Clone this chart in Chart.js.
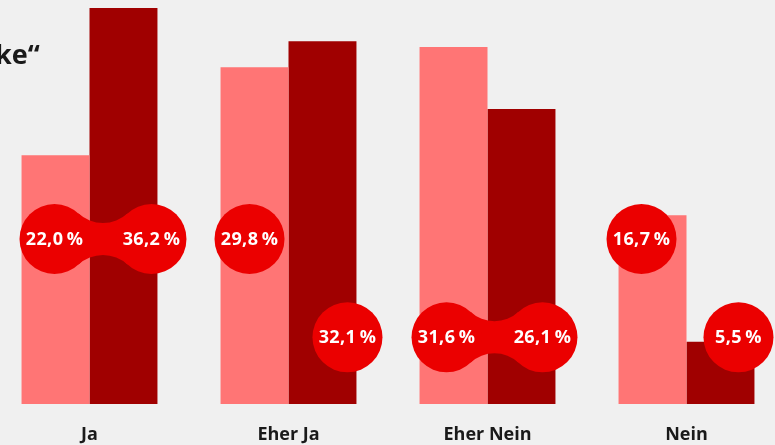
<!DOCTYPE html>
<html>
<head>
<meta charset="utf-8">
<script src="https://cdn.jsdelivr.net/npm/chart.js@4"></script>
<style>
  html, body { margin: 0; padding: 0; background: #f0f0f0; overflow: hidden; width: 775px; height: 445px; }
  #wrap { position: absolute; left: -10px; top: 0; width: 796px; height: 466px; }
  #title { position: absolute; left: -5px; top: 35px; font: bold 27px "Open Sans", sans-serif; color: #1a1a1a; white-space: nowrap; }
</style>
</head>
<body>
<div id="wrap"><canvas id="chart" width="796" height="466"></canvas></div>
<div id="title">ke“</div>
<script>
// ─── Data ─────────────────────────────────────────
const categories = ['Ja', 'Eher Ja', 'Eher Nein', 'Nein'];
const seriesLight = [22.0, 29.8, 31.6, 16.7];
const seriesDark = [36.2, 32.1, 26.1, 5.5];

// bubble placement (value units on the y axis) — layout only
const bubbleLevelLight = [14.6, 14.6, 5.9, 14.6];
const bubbleLevelDark = [14.6, 5.9, 5.9, 5.9];
// horizontal shift (px) of each bubble from its bar centre
const bubbleShiftLight = [-1, -5, -7, -11];
const bubbleShiftDark = [28, 25, 21, 18];

const COLORS = {
  light: '#ff7575',
  dark: '#a00000',
  bubble: '#eb0000',
  text: '#1a1a1a',
};
const FONT = '"Open Sans", sans-serif';
const R = 35;      // bubble radius
const NECK = 16;   // half height of the connector neck

function fmt(v) {
  return v.toFixed(1).replace('.', ',') + '\u2009%';
}

// ─── Bubbles plugin ───────────────────────────────
const bubblePlugin = {
  id: 'bubbles',
  afterDatasetsDraw(chart) {
    const ctx = chart.ctx;
    const y = chart.scales.y;
    const m0 = chart.getDatasetMeta(0);
    const m1 = chart.getDatasetMeta(1);
    ctx.save();
    ctx.fillStyle = COLORS.bubble;

    categories.forEach((cat, i) => {
      const a = { x: m0.data[i].x + bubbleShiftLight[i], y: y.getPixelForValue(bubbleLevelLight[i]) };
      const b = { x: m1.data[i].x + bubbleShiftDark[i], y: y.getPixelForValue(bubbleLevelDark[i]) };

      if (bubbleLevelLight[i] === bubbleLevelDark[i]) {
        drawNeck(ctx, a, b);
      }
      [a, b].forEach(p => {
        ctx.beginPath();
        ctx.arc(p.x, p.y, R, 0, Math.PI * 2);
        ctx.fill();
      });
    });

    ctx.fillStyle = '#ffffff';
    ctx.font = 'bold 18px ' + FONT;
    ctx.letterSpacing = '0.4px';
    ctx.textAlign = 'center';
    ctx.textBaseline = 'middle';
    categories.forEach((cat, i) => {
      ctx.fillText(fmt(seriesLight[i]), m0.data[i].x + bubbleShiftLight[i], y.getPixelForValue(bubbleLevelLight[i]) + 1);
      ctx.fillText(fmt(seriesDark[i]), m1.data[i].x + bubbleShiftDark[i], y.getPixelForValue(bubbleLevelDark[i]) + 1);
    });
    ctx.restore();
  }
};

// concave "metaball" bridge between two equal circles on one row
function drawNeck(ctx, a, b) {
  const half = (b.x - a.x) / 2;
  const mx = a.x + half;
  const cy = a.y;
  // radius of the connecting circles touching both bubbles
  const rc = (half * half + NECK * NECK - R * R) / (2 * (R - NECK));
  const top = { x: mx, y: cy - NECK - rc };
  const bot = { x: mx, y: cy + NECK + rc };

  const tp = (c, p) => {
    const dx = c.x - p.x, dy = c.y - p.y;
    const d = Math.hypot(dx, dy);
    return { x: p.x + dx / d * R, y: p.y + dy / d * R };
  };
  const tl = tp(top, a), tr = tp(top, b), bl = tp(bot, a), br = tp(bot, b);
  const ang = (c, p) => Math.atan2(p.y - c.y, p.x - c.x);

  ctx.beginPath();
  ctx.moveTo(tl.x, tl.y);
  ctx.arc(top.x, top.y, rc, ang(top, tl), ang(top, tr), true);
  ctx.lineTo(br.x, br.y);
  ctx.arc(bot.x, bot.y, rc, ang(bot, br), ang(bot, bl), true);
  ctx.closePath();
  ctx.fill();
}

// ─── Chart ────────────────────────────────────────
new Chart(document.getElementById('chart'), {
  type: 'bar',
  data: {
    labels: categories,
    datasets: [
      { data: seriesLight, backgroundColor: COLORS.light, borderWidth: 0, clip: 0 },
      { data: seriesDark, backgroundColor: COLORS.dark, borderWidth: 0, clip: 0 },
    ],
  },
  options: {
    responsive: false,
    animation: false,
    devicePixelRatio: 1,
    layout: { padding: { top: 8, left: 0, right: 0, bottom: 0 } },
    datasets: { bar: { categoryPercentage: 0.683, barPercentage: 1 } },
    plugins: { legend: { display: false }, tooltip: { enabled: false } },
    scales: {
      x: {
        grid: { display: false, drawTicks: false },
        border: { display: false },
        ticks: { color: COLORS.text, padding: 20.2, font: { family: FONT, size: 18, weight: 'bold', lineHeight: 1.2 } },
      },
      y: { display: false, min: 0, max: 35.04 },
    },
  },
  plugins: [bubblePlugin],
});
</script>
</body>
</html>
